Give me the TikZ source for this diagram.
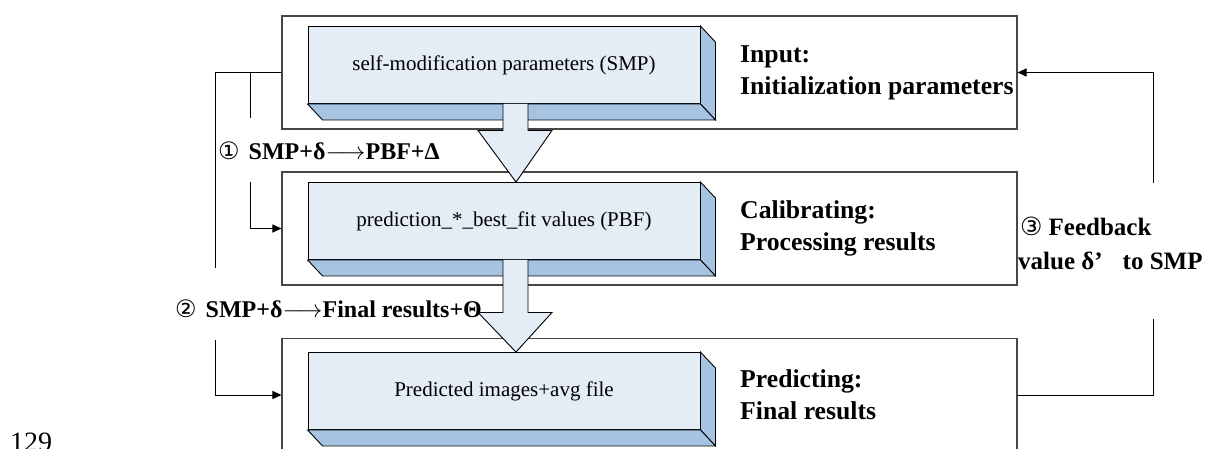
\documentclass[tikz,border=0pt]{standalone}
\usepackage{fontspec}
\setmainfont{Liberation Serif}
\newfontfamily\circfont{DejaVu Sans}
\usetikzlibrary{positioning,calc,arrows.meta}
\definecolor{faceblue}{RGB}{228,236,246}
\definecolor{sideblue}{RGB}{166,196,226}
\definecolor{framegray}{RGB}{70,70,70}
\tikzset{
  stage/.style={draw=framegray,line width=1.1pt,minimum width=735pt,minimum height=113pt,inner sep=0pt},
  front/.style={draw=black,line width=0.9pt,fill=faceblue,minimum width=392pt,minimum height=77pt,inner sep=0pt,font=\fontsize{21}{24}\selectfont},
  side/.style={draw=black,line width=0.9pt,fill=sideblue},
  blockarrow/.style={draw=black,line width=0.9pt,fill=faceblue},
  title/.style={anchor=west,align=left,inner sep=0pt,font=\fontsize{25.7}{32}\selectfont\bfseries},
  steplabel/.style={anchor=base west,inner sep=0pt,font=\fontsize{24}{26}\selectfont\bfseries},
  link/.style={draw=black,line width=1pt},
  tip/.style={-{Triangle[length=9pt,width=8pt]}},
}
% side and bottom faces of a slab
\newcommand{\slab}[1]{%
  \draw[side] (#1.north east) -- ++(15,16) -- ($(#1.south east)+(15,16)$) -- (#1.south east) -- cycle;
  \draw[side] (#1.south west) -- ++(15,16) -- ($(#1.south east)+(15,16)$) -- (#1.south east) -- cycle;}
\newcommand{\toarrow}{$\longrightarrow$}
\begin{document}
\begin{tikzpicture}[x=1pt,y=-1pt]
  \useasboundingbox (0,0) rectangle (1209,448);
  % The three stages
  \node[stage] (stage1) at (649.5,72.5) {};
  \node[stage] (stage2) at (649.5,228.5) {};
  \node[stage] (stage3) at (649.5,395) {};
  \node[front] (smp) at (504,65) {self-modification parameters (SMP)};
  \slab{smp}
  \node[front] (pbf) at (504,221) {prediction\_*\_best\_fit values (PBF)};
  \slab{pbf}
  \node[front] (pig) at (504,391) {Predicted images+avg file};
  \slab{pig}
  \node[title] (input) at ($(stage1.center)+(90.5,0)$) {Input:\\Initialization parameters};
  \node[title] (calib) at ($(stage2.center)+(90.5,0)$) {Calibrating:\\Processing results};
  \node[title] (predict) at ($(stage3.center)+(90.5,0)$) {Predicting:\\Final results};

  % Block arrows between the slabs
  \draw[blockarrow] ($(smp.south)+(-1,0)$) -- ++(0,26.5) -- ++(-25,0) -- ($(pbf.north)+(12,0)$)
    -- ($(smp.south)+(48,26.5)$) -- ++(-24,0) -- ++(0,-26.5);
  \draw[blockarrow] ($(pbf.south)+(-1,0)$) -- ++(0,52.5) -- ++(-25,0) -- ($(pig.north)+(12,0)$)
    -- ($(pbf.south)+(48,52.5)$) -- ++(-24,0) -- ++(0,-52.5);

  % Left connectors
  \coordinate (lt) at ($(stage1.west)+(-66,0)$);
  \coordinate (lb) at ($(stage3.west)+(-66,0)$);
  \coordinate (mt) at ($(stage1.west)+(-31,0)$);
  \coordinate (mb) at ($(stage2.west)+(-31,0)$);
  \draw[link] (stage1.west) -- (lt) -- ++(0,195.5);
  \draw[link] (mt) -- ++(0,45.5);
  \draw[link,tip] ($(mb)+(0,-47)$) -- (mb) -- (stage2.west);
  \draw[link,tip] ($(lb)+(0,-55)$) -- (lb) -- (stage3.west);
  \node[steplabel] (step1) at (218,159) {{\circfont\mdseries ①}\hspace{9pt}SMP+δ\toarrow PBF+Δ};
  \node[steplabel] (step2) at (175,317) {{\circfont\mdseries ②}\hspace{9pt}SMP+δ\toarrow Final results+Θ};

  % Feedback to the input
  \coordinate (fbtop) at ($(stage1.east)+(136,0)$);
  \coordinate (fbbot) at ($(stage3.east)+(136,0)$);
  \draw[link] (stage3.east) -- (fbbot) -- ++(0,-76);
  \draw[link,tip] ($(fbtop)+(0,110.5)$) -- (fbtop) -- (stage1.east);
  \node[title,font=\fontsize{25}{34}\selectfont\bfseries] (step3) at (1018,243)
    {\hspace{2pt}{\circfont\mdseries ③}\hspace{6pt}Feedback\\value δ’\hspace{20pt}to SMP};

  \node[anchor=base west,inner sep=0pt,font=\fontsize{28}{30}\selectfont] (page) at (10,451) {129};
\end{tikzpicture}
\end{document}
